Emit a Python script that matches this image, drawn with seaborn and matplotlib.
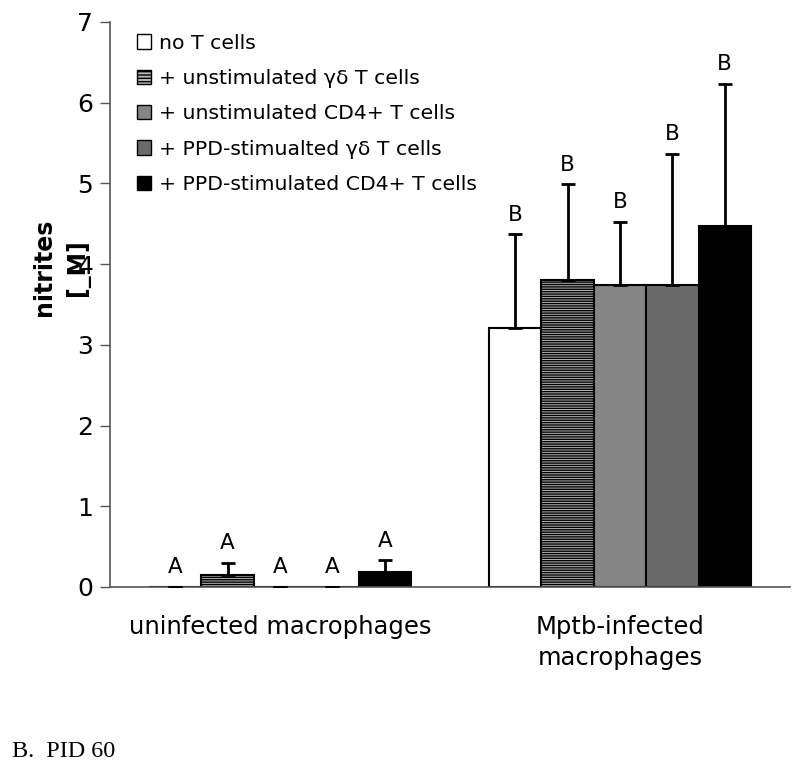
import matplotlib
matplotlib.use("Agg")
import matplotlib.pyplot as plt
import seaborn as sns
import pandas as pd
import numpy as np

categories = ["uninfected macrophages", "Mptb-infected\nmacrophages"]
treatments = ["no T cells", "+ unstimulated γδ T cells", "+ unstimulated CD4+ T cells",
              "+ PPD-stimualted γδ T cells", "+ PPD-stimulated CD4+ T cells"]
means_uninf = [0.0, 0.15, 0.0, 0.0, 0.19]
means_inf = [3.21, 3.80, 3.74, 3.74, 4.47]
err_uninf = [0.0, 0.15, 0.0, 0.0, 0.14]
err_inf = [1.16, 1.19, 0.78, 1.63, 1.76]
letters_uninf = ["A", "A", "A", "A", "A"]
letters_inf = ["B", "B", "B", "B", "B"]
yticks = [0, 1, 2, 3, 4, 5, 6, 7]

rows = []
for t, m, e, l in zip(treatments, means_uninf, err_uninf, letters_uninf):
    rows.append(dict(cat=categories[0], treat=t, val=m, err=e, let=l))
for t, m, e, l in zip(treatments, means_inf, err_inf, letters_inf):
    rows.append(dict(cat=categories[1], treat=t, val=m, err=e, let=l))
df = pd.DataFrame(rows)

sns.set_style("white")
plt.rcParams['font.family'] = ['DejaVu Sans']
plt.rcParams['text.color'] = 'black'
plt.rcParams['xtick.color'] = 'black'
plt.rcParams['ytick.color'] = 'black'
plt.rcParams['axes.labelcolor'] = 'black'

fig = plt.figure(figsize=(8, 7.69), dpi=100)
ax = fig.add_axes([0.1375, 0.2367, 0.85, 0.7347])

colors = ["#ffffff", "#b5b5b5", "#858585", "#6a6a6a", "#000000"]
sns.barplot(data=df, x="cat", y="val", hue="treat", order=categories, hue_order=treatments,
            palette=colors, width=0.77, gap=0, errorbar=None, edgecolor="black",
            linewidth=1.5, ax=ax, legend=False)

bar_conts = list(ax.containers)
for i, cont in enumerate(bar_conts):
    for j, p in enumerate(cont.patches):
        if i == 1:
            p.set_hatch("-------")
        sub = df[(df.treat == treatments[i]) & (df.cat == categories[j])].iloc[0]
        xc = p.get_x() + p.get_width() / 2
        top = p.get_height()
        ax.errorbar([xc], [top], yerr=[[0], [sub.err]], fmt="none", ecolor="black",
                    elinewidth=2, capsize=5, capthick=2, zorder=3)
        ax.text(xc, top + sub.err + 0.12, sub.let, ha="center", va="bottom", fontsize=15.5)

ax.set_ylim(0, 7)
ax.set_xlim(-0.5, 1.5)
ax.set_yticks(yticks)
ax.set_yticklabels([str(v) for v in yticks], fontsize=18)
ax.set_xticks([0, 1])
ax.set_xticklabels(categories, fontsize=17.5, linespacing=1.4)
ax.set_xticks([-0.5, 0.5, 1.5], minor=True)
ax.tick_params(axis="x", which="major", length=0, pad=20)
ax.tick_params(axis="x", which="minor", length=8, width=1, color="#555555", direction="out")
ax.tick_params(axis="y", length=7, width=1, color="#555555", labelcolor="black",
               direction="out", left=True, pad=5)
ax.set_xlabel("")
ax.set_ylabel("nitrites\n[_M]", fontsize=17, fontweight="bold", linespacing=1.45)
ax.yaxis.set_label_coords(-0.03, 0.566)
for s in ["top", "right"]:
    ax.spines[s].set_visible(False)
for s in ["left", "bottom"]:
    ax.spines[s].set_color("#555555")
    ax.spines[s].set_linewidth(1.2)

handles = [plt.Rectangle((0, 0), 1, 1, facecolor=c, edgecolor="black", linewidth=1,
                         hatch=("-----" if k == 1 else None)) for k, c in enumerate(colors)]
ax.legend(handles, treatments, loc="upper left", bbox_to_anchor=(0.012, 1.012), frameon=False,
          fontsize=14.7, handlelength=0.7, handleheight=0.7, handletextpad=0.4,
          labelspacing=0.8)

fig.text(0.015, 0.016, "B.  PID 60", fontsize=17.4, family="Liberation Serif", va="baseline")

fig.savefig("out.png", dpi=100)
